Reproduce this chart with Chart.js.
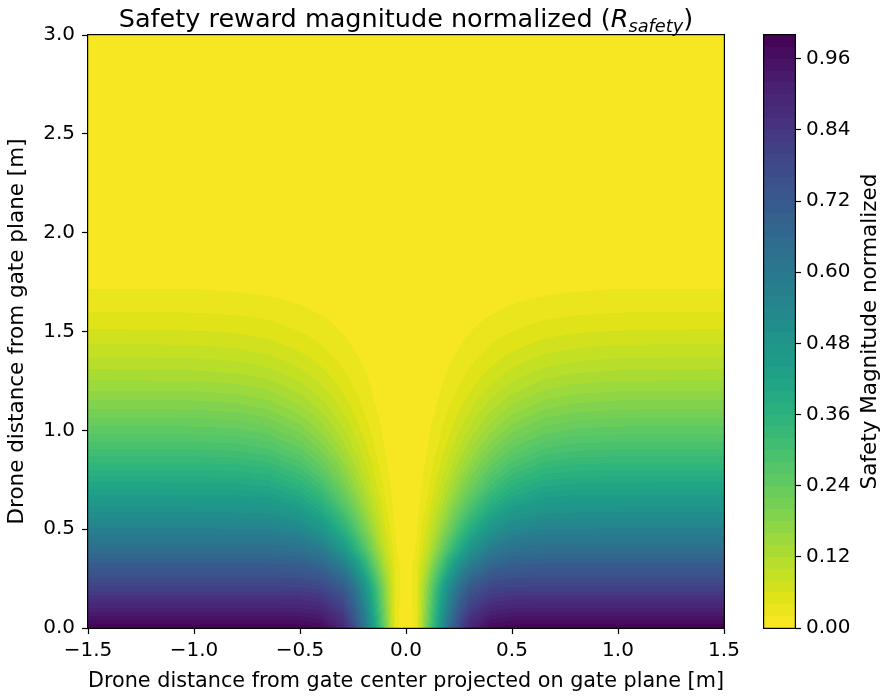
<!DOCTYPE html>
<html><head><meta charset="utf-8">
<script src="https://cdn.jsdelivr.net/npm/chart.js@4.4.1/dist/chart.umd.min.js"></script>
<style>
html,body{margin:0;padding:0;background:#fff;}
#wrap{position:relative;width:883px;height:697px;overflow:hidden;}
#main{position:absolute;left:0;top:0;}
#cbar{position:absolute;left:740px;top:0;}
</style></head><body>
<div id="wrap"><canvas id="main" width="883" height="697"></canvas><canvas id="cbar" width="143" height="697"></canvas></div>
<script>
// ---- data ----
// x: drone distance from gate centre projected on gate plane [m]
const centerDist = [-1.5,-1.25,-1.0,-0.8,-0.65,-0.5,-0.4,-0.3,-0.25,-0.2,-0.15,-0.1,-0.05,0,0.05,0.1,0.15,0.2,0.25,0.3,0.4,0.5,0.65,0.8,1.0,1.25,1.5];
// y: drone distance from gate plane [m]
const planeDist = [0,0.1,0.2,0.3,0.4,0.5,0.6,0.7,0.8,0.9,1.0,1.1,1.2,1.3,1.4,1.5,1.6,1.7,1.8,2.0,3.0];
// normalized safety magnitude, one row per planeDist value
const m00 = [1,1,1,1,1,0.998,0.982,0.895,0.790,0.632,0.430,0.221,0.030,0,0.030,0.221,0.430,0.632,0.790,0.895,0.982,0.998,1,1,1,1,1];
const m01 = [0.903,0.903,0.903,0.903,0.903,0.901,0.886,0.807,0.713,0.570,0.388,0.200,0.032,0,0.032,0.200,0.388,0.570,0.713,0.807,0.886,0.901,0.903,0.903,0.903,0.903,0.903];
const m02 = [0.810,0.810,0.810,0.810,0.810,0.808,0.795,0.725,0.640,0.512,0.348,0.179,0.036,0,0.036,0.179,0.348,0.512,0.640,0.725,0.795,0.808,0.810,0.810,0.810,0.810,0.810];
const m03 = [0.723,0.723,0.723,0.723,0.722,0.718,0.693,0.603,0.516,0.398,0.262,0.131,0.035,0,0.035,0.131,0.262,0.398,0.516,0.603,0.693,0.718,0.722,0.723,0.723,0.723,0.723];
const m04 = [0.640,0.640,0.640,0.640,0.639,0.625,0.582,0.474,0.389,0.289,0.183,0.089,0.024,0,0.024,0.089,0.183,0.289,0.389,0.474,0.582,0.625,0.639,0.640,0.640,0.640,0.640];
const m05 = [0.563,0.563,0.563,0.562,0.559,0.535,0.480,0.372,0.297,0.214,0.133,0.064,0.017,0,0.017,0.064,0.133,0.214,0.297,0.372,0.480,0.535,0.559,0.562,0.563,0.563,0.563];
const m06 = [0.490,0.490,0.490,0.489,0.483,0.450,0.391,0.291,0.228,0.162,0.099,0.047,0.012,0,0.012,0.047,0.099,0.162,0.228,0.291,0.391,0.450,0.483,0.489,0.490,0.490,0.490];
const m07 = [0.423,0.423,0.422,0.421,0.411,0.373,0.315,0.227,0.175,0.123,0.074,0.035,0.009,0,0.009,0.035,0.074,0.123,0.175,0.227,0.315,0.373,0.411,0.421,0.422,0.423,0.423];
const m08 = [0.360,0.360,0.360,0.357,0.345,0.305,0.252,0.177,0.135,0.093,0.056,0.026,0.007,0,0.007,0.026,0.056,0.093,0.135,0.177,0.252,0.305,0.345,0.357,0.360,0.360,0.360];
const m09 = [0.303,0.303,0.302,0.298,0.284,0.245,0.198,0.137,0.103,0.071,0.042,0.020,0.005,0,0.005,0.020,0.042,0.071,0.103,0.137,0.198,0.245,0.284,0.298,0.302,0.303,0.303];
const m10 = [0.250,0.250,0.249,0.245,0.230,0.194,0.154,0.104,0.078,0.053,0.032,0.015,0.004,0,0.004,0.015,0.032,0.053,0.078,0.104,0.154,0.194,0.230,0.245,0.249,0.250,0.250];
const m11 = [0.203,0.203,0.202,0.196,0.182,0.151,0.118,0.079,0.059,0.040,0.023,0.011,0.003,0,0.003,0.011,0.023,0.040,0.059,0.079,0.118,0.151,0.182,0.196,0.202,0.203,0.203];
const m12 = [0.160,0.160,0.159,0.153,0.141,0.114,0.088,0.058,0.043,0.029,0.017,0.008,0.002,0,0.002,0.008,0.017,0.029,0.043,0.058,0.088,0.114,0.141,0.153,0.159,0.160,0.160];
const m13 = [0.123,0.122,0.121,0.116,0.105,0.084,0.064,0.042,0.031,0.021,0.012,0.006,0.001,0,0.001,0.006,0.012,0.021,0.031,0.042,0.064,0.084,0.105,0.116,0.121,0.122,0.123];
const m14 = [0.090,0.090,0.089,0.084,0.075,0.059,0.045,0.029,0.021,0.014,0.008,0.004,0.001,0,0.001,0.004,0.008,0.014,0.021,0.029,0.045,0.059,0.075,0.084,0.089,0.090,0.090];
const m15 = [0.063,0.062,0.061,0.058,0.051,0.040,0.030,0.019,0.014,0.009,0.005,0.002,0.001,0,0.001,0.002,0.005,0.009,0.014,0.019,0.030,0.040,0.051,0.058,0.061,0.062,0.063];
const m16 = [0.040,0.040,0.039,0.036,0.032,0.024,0.018,0.011,0.008,0.006,0.003,0.001,0,0,0,0.001,0.003,0.006,0.008,0.011,0.018,0.024,0.032,0.036,0.039,0.040,0.040];
const m17 = [0.022,0.022,0.022,0.020,0.017,0.013,0.010,0.006,0.004,0.003,0.002,0.001,0,0,0,0.001,0.002,0.003,0.004,0.006,0.010,0.013,0.017,0.020,0.022,0.022,0.022];
const m18 = [0.010,0.010,0.010,0.009,0.008,0.006,0.004,0.003,0.002,0.001,0.001,0,0,0,0,0,0.001,0.001,0.002,0.003,0.004,0.006,0.008,0.009,0.010,0.010,0.010];
const m20 = [0,0,0,0,0,0,0,0,0,0,0,0,0,0,0,0,0,0,0,0,0,0,0,0,0,0,0];
const m30 = [0,0,0,0,0,0,0,0,0,0,0,0,0,0,0,0,0,0,0,0,0,0,0,0,0,0,0];

// tick labels / texts
const xTicks = [-1.5,-1.0,-0.5,0,0.5,1.0,1.5];
const yTicks = [0,0.5,1.0,1.5,2.0,2.5,3.0];
const cbTicks = [0,0.12,0.24,0.36,0.48,0.60,0.72,0.84,0.96];
const xTitle = 'Drone distance from gate center projected on gate plane [m]';
const yTitle = 'Drone distance from gate plane [m]';
const cbTitle = 'Safety Magnitude normalized';
const titleMain = 'Safety reward magnitude normalized (';
const titleSym = 'R';
const titleSub = 'safety';
const titleEnd = ')';

// ---- styling ----
const levelStep = 0.02;     // contour level spacing
const levelMax = 1.0;
const FONT = "'DejaVu Sans', sans-serif";
const viridisAnchors = ['#440154','#471365','#482475','#46327e','#414487','#3b528b','#355f8d','#2f6c8e','#2a788e','#25848e','#21918c','#1e9c89','#22a884','#2fb47c','#44bf70','#5ec962','#7ad151','#9bd93c','#bddf26','#dfe318','#fde725'];

const grid = [m00,m01,m02,m03,m04,m05,m06,m07,m08,m09,m10,m11,m12,m13,m14,m15,m16,m17,m18,m20,m30];

function hexRgb(h){return [parseInt(h.slice(1,3),16),parseInt(h.slice(3,5),16),parseInt(h.slice(5,7),16)];}
const anchorsRgb = viridisAnchors.map(hexRgb);
function viridis(t){
  t = Math.max(0, Math.min(1, t));
  const p = t*(anchorsRgb.length-1); const k = Math.min(anchorsRgb.length-2, Math.floor(p)); const f = p-k;
  const a = anchorsRgb[k], b = anchorsRgb[k+1];
  return [0,1,2].map(i => Math.round(a[i]+(b[i]-a[i])*f));
}
const nBands = Math.round(levelMax/levelStep);
// reversed viridis (0 -> yellow, 1 -> purple), colour at each band's midpoint
const bandColors = [];
for (let b=0;b<nBands;b++){ bandColors.push(viridis(1 - (b+0.5)*levelStep/levelMax)); }

function locate(arr, v){
  let k = 0;
  while (k < arr.length-2 && v > arr[k+1]) k++;
  let t = (v-arr[k])/(arr[k+1]-arr[k]);
  t = Math.max(0, Math.min(1, t));
  return [k, t];
}
function fmt(v, d){ const s = Math.abs(v).toFixed(d); return (v < -1e-9 ? '\u2212' : '') + s; }

const heatmapPlugin = {
  id: 'heatmap',
  beforeDatasetsDraw(chart){
    const {ctx, chartArea: a, scales} = chart;
    const xs = scales.x, ys = scales.y;
    const w = Math.round(a.right - a.left), h = Math.round(a.bottom - a.top);
    const off = document.createElement('canvas'); off.width = w; off.height = h;
    const octx = off.getContext('2d'); const img = octx.createImageData(w, h); const d = img.data;
    const kx = new Int32Array(w), tx = new Float64Array(w);
    for (let i=0;i<w;i++){ const r = locate(centerDist, xs.getValueForPixel(a.left+i+0.5)); kx[i]=r[0]; tx[i]=r[1]; }
    for (let j=0;j<h;j++){
      const r = locate(planeDist, ys.getValueForPixel(a.top+j+0.5)); const ky=r[0], ty=r[1];
      const g0 = grid[ky], g1 = grid[ky+1];
      for (let i=0;i<w;i++){
        const k = kx[i], t = tx[i];
        const v0 = g0[k]+(g0[k+1]-g0[k])*t, v1 = g1[k]+(g1[k+1]-g1[k])*t;
        const v = v0+(v1-v0)*ty;
        const b = Math.max(0, Math.min(nBands-1, Math.floor(v/levelStep + 1e-9)));
        const c = bandColors[b]; const o = (j*w+i)*4;
        d[o]=c[0]; d[o+1]=c[1]; d[o+2]=c[2]; d[o+3]=255;
      }
    }
    octx.putImageData(img,0,0);
    ctx.drawImage(off, a.left, a.top);
  },
  afterDatasetsDraw(chart){
    const {ctx, chartArea: a} = chart;
    ctx.save(); ctx.strokeStyle='#000'; ctx.lineWidth=1.2;
    ctx.strokeRect(a.left-0.4, a.top-0.4, a.right-a.left+0.8, a.bottom-a.top+0.8);
    ctx.restore();
  },
  afterDraw(chart){
    const {ctx, chartArea: a} = chart;
    const big = 25.5, small = 17.8;
    const parts = [
      {t:titleMain, f:`${big}px ${FONT}`, dy:0},
      {t:titleSym, f:`italic ${big}px ${FONT}`, dy:0},
      {t:titleSub, f:`italic ${small}px ${FONT}`, dy:5},
      {t:titleEnd, f:`${big}px ${FONT}`, dy:0}
    ];
    ctx.save(); ctx.fillStyle='#000'; ctx.textBaseline='alphabetic'; ctx.textAlign='left';
    let total = 0; parts.forEach(p => { ctx.font = p.f; p.w = ctx.measureText(p.t).width; total += p.w; });
    let x = (a.left+a.right)/2 - total/2; const base = 27;
    parts.forEach(p => { ctx.font = p.f; ctx.fillText(p.t, x, base+p.dy); x += p.w; });
    ctx.restore();
  }
};

Chart.defaults.font.family = FONT;
Chart.defaults.color = '#000';

new Chart(document.getElementById('main'), {
  type: 'scatter',
  data: { datasets: [{ data: [], pointRadius: 0 }] },
  options: {
    responsive: false, animation: false, devicePixelRatio: 1,
    layout: { padding: { left: 0, top: 35, right: 159, bottom: 0 } },
    plugins: { legend: {display:false}, tooltip: {enabled:false}, title: {display:false} },
    scales: {
      x: {
        type: 'linear', min: -1.5, max: 1.5,
        afterBuildTicks: s => { s.ticks = xTicks.map(v => ({value: v})); },
        afterFit: s => { s.height = 69; s.paddingLeft = 0; s.paddingRight = 0; },
        ticks: { font: {size: 20}, color: '#000', padding: 5, maxRotation: 0, autoSkip: false, callback: v => fmt(v,1) },
        grid: { display: true, drawOnChartArea: false, drawTicks: true, tickLength: 6, tickColor: '#000', tickWidth: 1.2 },
        border: { display: false },
        title: { display: true, text: xTitle, font: {size: 21.5}, color: '#000', padding: {top: 0, bottom: 3} }
      },
      y: {
        type: 'linear', min: 0, max: 3,
        afterBuildTicks: s => { s.ticks = yTicks.map(v => ({value: v})); },
        afterFit: s => { s.width = 88; s.paddingTop = 0; s.paddingBottom = 0; },
        ticks: { font: {size: 20}, color: '#000', padding: 7, autoSkip: false, callback: v => fmt(v,1) },
        grid: { display: true, drawOnChartArea: false, drawTicks: true, tickLength: 6, tickColor: '#000', tickWidth: 1.2 },
        border: { display: false },
        title: { display: true, text: yTitle, font: {size: 21.5}, color: '#000', padding: {top: 5, bottom: 0} }
      }
    }
  },
  plugins: [heatmapPlugin]
});

const colorbarPlugin = {
  id: 'colorbar',
  beforeDatasetsDraw(chart){
    const {ctx, chartArea: a, scales: {y}} = chart;
    for (let b=0;b<nBands;b++){
      const yt = Math.round(y.getPixelForValue((b+1)*levelStep)), yb = Math.round(y.getPixelForValue(b*levelStep));
      const c = bandColors[b];
      ctx.fillStyle = `rgb(${c[0]},${c[1]},${c[2]})`;
      ctx.fillRect(a.left, yt, a.right-a.left, yb-yt);
    }
    ctx.save(); ctx.strokeStyle='#000'; ctx.lineWidth=1.2;
    ctx.strokeRect(a.left-0.4, a.top-0.4, a.right-a.left+0.8, a.bottom-a.top+0.8);
    ctx.restore();
  },
  afterDraw(chart){
    const {ctx, chartArea: a} = chart;
    ctx.save(); ctx.fillStyle='#000'; ctx.font = `21.5px ${FONT}`; ctx.textAlign='center'; ctx.textBaseline='middle';
    ctx.translate(130, (a.top+a.bottom)/2); ctx.rotate(-Math.PI/2);
    ctx.fillText(cbTitle, 0, 0);
    ctx.restore();
  }
};

new Chart(document.getElementById('cbar'), {
  type: 'scatter',
  data: { datasets: [{ data: [], pointRadius: 0 }] },
  options: {
    responsive: false, animation: false, devicePixelRatio: 1,
    layout: { padding: { left: 24, top: 35, right: 0, bottom: 69 } },
    plugins: { legend: {display:false}, tooltip: {enabled:false} },
    scales: {
      x: { display: false, min: 0, max: 1 },
      y: {
        position: 'right', min: 0, max: levelMax,
        afterBuildTicks: s => { s.ticks = cbTicks.map(v => ({value: v})); },
        afterFit: s => { s.width = 88; s.paddingTop = 0; s.paddingBottom = 0; },
        ticks: { font: {size: 20}, color: '#000', padding: 5, autoSkip: false, callback: v => Number(v).toFixed(2) },
        grid: { display: true, drawOnChartArea: false, drawTicks: true, tickLength: 6, tickColor: '#000', tickWidth: 1.2 },
        border: { display: false }
      }
    }
  },
  plugins: [colorbarPlugin]
});
</script>
</body></html>
